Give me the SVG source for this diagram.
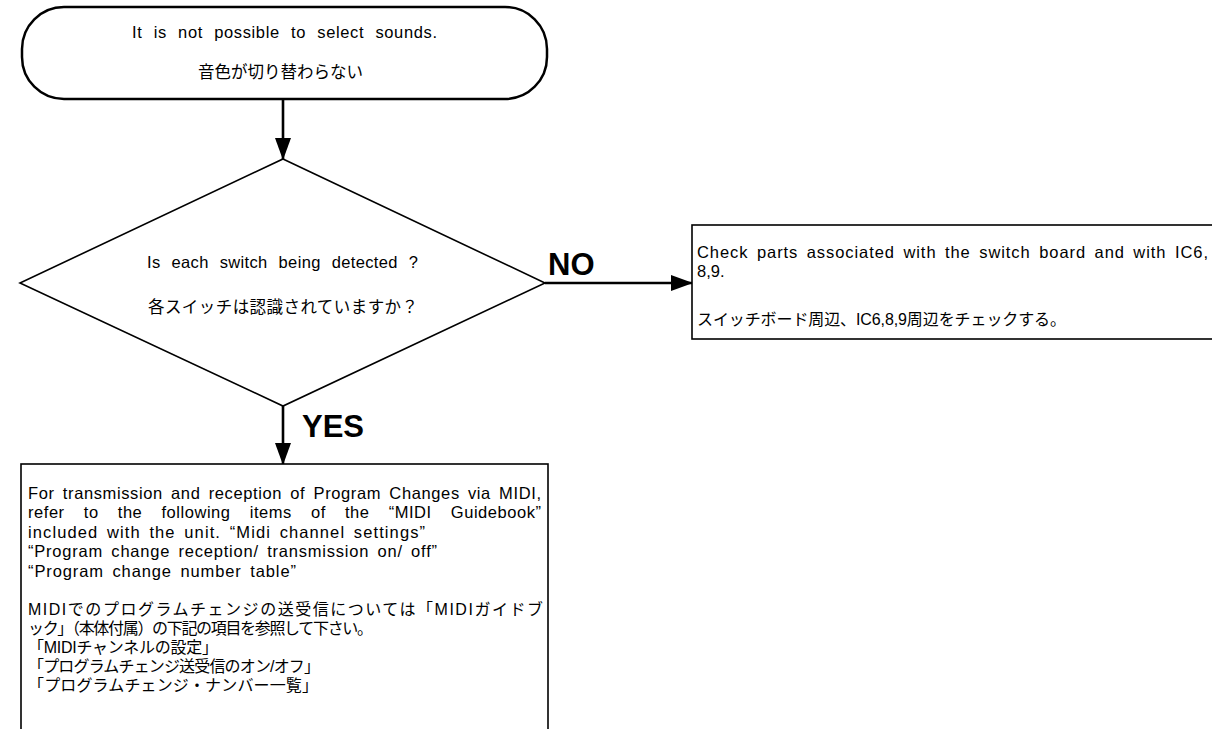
<svg xmlns="http://www.w3.org/2000/svg" width="1212" height="729" viewBox="0 0 1212 729">
<style>
.shape{fill:#fff;stroke:#000}
.term{stroke-width:2.5}
.dia{stroke-width:1.6}
.box{stroke-width:1.6}
.conn{stroke:#000;stroke-width:2.6;fill:none}
.en{font-family:"Liberation Sans",Arial,sans-serif;font-size:16.5px;fill:#000;word-spacing:3px}
.jp{font-family:"Liberation Sans","Noto Sans CJK JP",sans-serif;font-size:16px;fill:#000}
.lbl{font-family:"Liberation Sans",Arial,sans-serif;font-size:31px;font-weight:bold;fill:#000}
</style>
<defs>
<marker id="ah" markerUnits="userSpaceOnUse" markerWidth="22" markerHeight="16" refX="21" refY="8" orient="auto">
<path d="M0,0 L22,8 L0,16 z" fill="#000"/>
</marker>
</defs>
<rect width="1212" height="729" fill="#fff"/>

<g id="connectors">
<line class="conn" x1="283" y1="99" x2="283" y2="159" marker-end="url(#ah)"/>
<line class="conn" x1="545" y1="283" x2="692" y2="283" marker-end="url(#ah)"/>
<line class="conn" x1="283" y1="406" x2="283" y2="464" marker-end="url(#ah)"/>
<text class="lbl" x="548" y="275">NO</text>
<text class="lbl" x="302" y="437">YES</text>
</g>

<g id="start">
<rect class="shape term" x="22" y="7" width="525" height="92" rx="42" ry="42"/>
<text class="en" x="132" y="38" textLength="305" lengthAdjust="spacing" style="word-spacing:6px">It is not possible to select sounds.</text>
<text class="jp" x="198" y="78" textLength="165" lengthAdjust="spacing" style="font-size:16.5px">音色が切り替わらない</text>
</g>

<g id="decision">
<polygon class="shape dia" points="283,159 545,283 283,406 20,283"/>
<text class="en" x="147" y="268" textLength="271" lengthAdjust="spacing" style="word-spacing:6px">Is each switch being detected ?</text>
<text class="jp" x="148" y="313" textLength="270" lengthAdjust="spacing" style="font-size:16.5px">各スイッチは認識されていますか？</text>
</g>

<g id="check-parts">
<rect class="shape box" x="692" y="225" width="530" height="114"/>
<text class="en" x="697" y="258" textLength="511" lengthAdjust="spacing">Check parts associated with the switch board and with IC6,</text>
<text class="en" x="697" y="277">8,9.</text>
<text class="jp" x="697" y="325" textLength="369" lengthAdjust="spacing">スイッチボード周辺、IC6,8,9周辺をチェックする。</text>
</g>

<g id="midi-info">
<rect class="shape box" x="21" y="464" width="527" height="280"/>
<text class="en" x="28" y="499" textLength="513" lengthAdjust="spacing">For transmission and reception of Program Changes via MIDI,</text>
<text class="en" x="28" y="518" textLength="513" lengthAdjust="spacing" style="word-spacing:14px">refer to the following items of the “MIDI Guidebook”</text>
<text class="en" x="28" y="538" textLength="397" lengthAdjust="spacing">included with the unit. “Midi channel settings”</text>
<text class="en" x="28" y="557" textLength="409" lengthAdjust="spacing">“Program change reception/ transmission on/ off”</text>
<text class="en" x="28" y="577" textLength="268" lengthAdjust="spacing">“Program change number table”</text>
<text class="jp" x="28" y="615" textLength="515" lengthAdjust="spacing">MIDIでのプログラムチェンジの送受信については「MIDIガイドブ</text>
<text class="jp" x="28" y="634" textLength="345" lengthAdjust="spacing">ック」（本体付属）の下記の項目を参照して下さい。</text>
<text class="jp" x="28" y="653" textLength="190" lengthAdjust="spacing">「MIDIチャンネルの設定」</text>
<text class="jp" x="28" y="672" textLength="292" lengthAdjust="spacing">「プログラムチェンジ送受信のオン/オフ」</text>
<text class="jp" x="28" y="691" textLength="290" lengthAdjust="spacing">「プログラムチェンジ・ナンバー一覧」</text>
</g>
</svg>
